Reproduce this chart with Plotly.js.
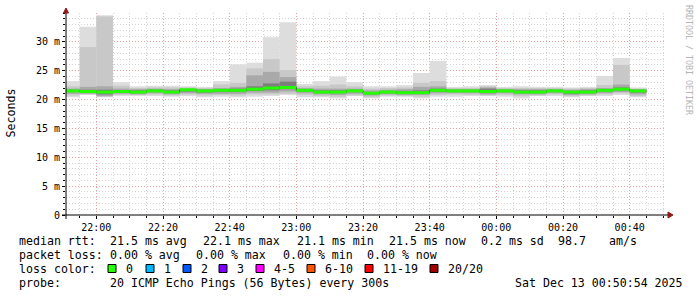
<!DOCTYPE html>
<html>
<head>
<meta charset="utf-8">
<script src="https://cdn.plot.ly/plotly-3.0.1.min.js"></script>
<style>
  html, body { margin: 0; padding: 0; background: #ffffff; }
  #chart { width: 697px; height: 297px; }
</style>
</head>
<body>
<div id="chart"></div>
<script>
// End time of each 300 s step
const stepEnds = [
  '2025-12-12 21:55', '2025-12-12 22:00', '2025-12-12 22:05', '2025-12-12 22:10',
  '2025-12-12 22:15', '2025-12-12 22:20', '2025-12-12 22:25', '2025-12-12 22:30',
  '2025-12-12 22:35', '2025-12-12 22:40', '2025-12-12 22:45', '2025-12-12 22:50',
  '2025-12-12 22:55', '2025-12-12 23:00', '2025-12-12 23:05', '2025-12-12 23:10',
  '2025-12-12 23:15', '2025-12-12 23:20', '2025-12-12 23:25', '2025-12-12 23:30',
  '2025-12-12 23:35', '2025-12-12 23:40', '2025-12-12 23:45', '2025-12-12 23:50',
  '2025-12-12 23:55', '2025-12-13 00:00', '2025-12-13 00:05', '2025-12-13 00:10',
  '2025-12-13 00:15', '2025-12-13 00:20', '2025-12-13 00:25', '2025-12-13 00:30',
  '2025-12-13 00:35', '2025-12-13 00:40', '2025-12-13 00:45'
];

// Median round trip time per step (ms)
const medianRtt = [
  21.5, 21.4, 21.3, 21.4, 21.3, 21.5, 21.3, 21.7, 21.5, 21.6, 21.6, 21.8,
  22.0, 22.1, 21.6, 21.3, 21.3, 21.5, 21.1, 21.3, 21.2, 21.2, 21.6, 21.5,
  21.5, 21.4, 21.5, 21.3, 21.3, 21.5, 21.3, 21.3, 21.6, 21.8, 21.5
];

// Smoke bands: sorted ping spread per step (ms), outer to inner
const pingMax = [
  23.2, 32.6, 34.6, 23.0, 22.3, 22.4, 22.4, 22.3, 22.2, 23.2, 26.1, 26.4,
  30.8, 33.4, 22.7, 23.2, 24.0, 23.0, 22.3, 22.3, 22.5, 24.6, 26.7, 22.2,
  22.3, 22.5, 22.2, 22.3, 22.2, 22.2, 22.1, 22.2, 24.1, 27.2, 22.1
];
const pingHi2 = [
  22.3, 29.1, 34.4, 22.4, 22.0, 22.1, 22.1, 22.1, 22.0, 22.6, 22.9, 25.4,
  27.0, 25.1, 22.3, 22.4, 22.6, 22.3, 21.9, 22.0, 22.1, 22.9, 23.2, 22.0,
  22.0, 22.3, 22.0, 22.0, 22.0, 22.0, 21.9, 22.0, 22.5, 26.0, 21.9
];
const pingHi3 = [
  21.9, 22.2, 22.3, 21.9, 21.8, 21.9, 21.8, 21.9, 21.8, 22.0, 22.2, 24.2,
  24.8, 23.9, 22.0, 21.9, 21.9, 21.9, 21.6, 21.7, 21.8, 22.2, 22.3, 21.8,
  21.8, 22.1, 21.8, 21.8, 21.8, 21.8, 21.7, 21.8, 22.0, 22.6, 21.8
];
const pingHi4 = [
  21.7, 21.7, 21.7, 21.6, 21.6, 21.7, 21.6, 21.8, 21.7, 21.8, 21.9, 22.3,
  22.8, 23.1, 21.8, 21.6, 21.6, 21.7, 21.3, 21.5, 21.5, 21.6, 21.9, 21.7,
  21.7, 21.9, 21.7, 21.6, 21.6, 21.7, 21.5, 21.6, 21.8, 22.1, 21.7
];
const pingLo4 = [
  21.3, 21.2, 20.9, 21.2, 21.1, 21.3, 21.1, 21.4, 21.2, 21.3, 21.3, 21.5,
  21.6, 21.8, 21.4, 21.1, 21.1, 21.3, 20.9, 21.1, 21.0, 21.0, 21.4, 21.3,
  21.3, 21.1, 21.3, 21.1, 21.1, 21.3, 21.0, 21.1, 21.4, 21.6, 21.2
];
const pingLo3 = [
  21.0, 21.0, 20.6, 21.0, 20.9, 21.1, 20.9, 21.1, 21.0, 21.0, 21.0, 21.2,
  21.2, 21.4, 21.1, 20.9, 20.8, 21.0, 20.7, 20.9, 20.8, 20.8, 21.1, 21.1,
  21.1, 20.9, 21.1, 20.9, 20.9, 21.1, 20.8, 20.9, 21.1, 21.3, 20.9
];
const pingLo2 = [
  20.7, 20.9, 20.5, 20.8, 20.8, 20.9, 20.7, 20.9, 20.7, 20.8, 20.7, 20.9,
  20.9, 21.0, 20.8, 20.6, 20.5, 20.7, 20.4, 20.7, 20.6, 20.5, 20.8, 20.9,
  20.8, 20.7, 20.8, 20.6, 20.7, 20.9, 20.6, 20.7, 20.9, 21.1, 20.6
];
const pingMin = [
  20.4, 20.8, 20.4, 20.6, 20.6, 20.6, 20.5, 20.6, 20.4, 20.5, 20.4, 20.5,
  20.6, 20.8, 20.4, 20.4, 20.2, 20.6, 20.2, 20.5, 20.5, 20.2, 20.5, 20.5,
  20.6, 20.6, 20.5, 20.2, 20.6, 20.6, 20.4, 20.6, 20.6, 20.8, 20.4
];

// Axis ticks
const xTickTimes = [
  '2025-12-12 22:00', '2025-12-12 22:20', '2025-12-12 22:40', '2025-12-12 23:00',
  '2025-12-12 23:20', '2025-12-12 23:40', '2025-12-13 00:00', '2025-12-13 00:20',
  '2025-12-13 00:40'
];
const xTickLabels = ['22:00', '22:20', '22:40', '23:00', '23:20', '23:40', '00:00', '00:20', '00:40'];
const yTickVals = [0, 5, 10, 15, 20, 25, 30];
const yTickLabels = ['0', '5 m', '10 m', '15 m', '20 m', '25 m', '30 m'];
const xRange = ['2025-12-12 21:50:54', '2025-12-13 00:50:54'];
const yRange = [0, 35];

// Loss colour legend
const lossLabels = ['0', '1', '2', '3', '4-5', '6-10', '11-19', '20/20'];
const lossColors = ['#26ff00', '#00b8ff', '#0059ff', '#7e00ff', '#ff00ff', '#ff5500', '#ff0000', '#a10000'];

// Statistics text
const rttStats = ['median rtt:', '21.5 ms avg', '22.1 ms max', '21.1 ms min', '21.5 ms now', '0.2 ms sd', '98.7', 'am/s'];
const lossStats = ['packet loss:', '0.00 % avg', '0.00 % max', '0.00 % min', '0.00 % now'];
const probeText = ['probe:', '20 ICMP Echo Pings (56 Bytes) every 300s', 'Sat Dec 13 00:50:54 2025'];

// ---- geometry of the drawing area (pixels) ----
const W = 697, H = 297;
const M = { l: 66, r: 31, t: 13, b: 82 };
const PW = W - M.l - M.r, PH = H - M.t - M.b;
const px = x => (x - M.l) / PW;
const py = y => (M.t + PH - y) / PH;

const STEP = 300000;
const toMs = s => Date.parse(s.replace(' ', 'T') + ':00Z');

function band(lo, hi, color) {
  return {
    type: 'bar',
    x: stepEnds,
    base: lo,
    y: hi.map((h, i) => h - lo[i]),
    offset: -STEP,
    width: STEP,
    marker: { color: color, line: { width: 0 } },
    hoverinfo: 'skip'
  };
}

// dark step line for the median: one point per step start plus the last step end
const medX = stepEnds.map(s => toMs(s) - STEP).concat([toMs(stepEnds[stepEnds.length - 1])]);
const medY = medianRtt.concat([medianRtt[medianRtt.length - 1]]);

// loss-coloured median: a flat segment across each step
const segX = [], segY = [];
stepEnds.forEach((s, i) => {
  segX.push(toMs(s) - STEP, toMs(s), null);
  segY.push(medianRtt[i], medianRtt[i], null);
});

const traces = [
  band(pingMin, pingMax, '#dddddd'),
  band(pingLo2, pingHi2, '#c8c8c8'),
  band(pingLo3, pingHi3, '#a9a9a9'),
  band(pingLo4, pingHi4, '#7e7e7e'),
  {
    type: 'scatter', mode: 'lines', x: medX, y: medY,
    line: { shape: 'hv', color: '#202020', width: 1 }, hoverinfo: 'skip'
  },
  {
    type: 'scatter', mode: 'lines', x: segX, y: segY, connectgaps: false,
    line: { color: lossColors[0], width: 3 }, hoverinfo: 'skip'
  }
];

const monoFont = 'DejaVu Sans Mono, monospace';
const legendSize = 11.6;
const annotations = [];
function txt(x, y, text, opts) {
  annotations.push(Object.assign({
    xref: 'paper', yref: 'paper', x: px(x), y: py(y), text: text.replace(/ /g, '\u00a0'),
    showarrow: false, xanchor: 'left', yanchor: 'middle',
    font: { family: monoFont, size: legendSize, color: '#000000' }
  }, opts || {}));
}

// statistic lines
const rttX = [16.7, 107.7, 201, 294.5, 386.7, 479.3, 556.3, 606.7];
rttStats.forEach((t, i) => txt(rttX[i], 241, t));
const lossX = [16.7, 107.7, 194, 281, 365];
lossStats.forEach((t, i) => txt(lossX[i], 255, t));
txt(16.7, 268.5, 'loss color:');
const boxX = [108, 146, 183, 219, 256, 307, 365, 430];
const shapes = [];
lossLabels.forEach((t, i) => {
  shapes.push({
    type: 'rect', xref: 'paper', yref: 'paper',
    x0: px(boxX[i]), x1: px(boxX[i] + 8), y0: py(272.5), y1: py(264.5),
    fillcolor: lossColors[i], line: { color: '#000000', width: 1 }
  });
  txt(boxX[i] + 16, 268.5, t);
});
txt(16.7, 283.3, probeText[0]);
txt(107.7, 283.3, probeText[1]);
txt(513.3, 283.3, probeText[2]);

// axis title and watermark
txt(10.5, 113, 'Seconds', { xanchor: 'center', textangle: -90 });
annotations.push({
  xref: 'paper', yref: 'paper', x: px(689), y: py(60), text: 'RRDTOOL / TOBI OETIKER',
  showarrow: false, xanchor: 'center', yanchor: 'middle', textangle: 90,
  font: { family: monoFont, size: 8.3, color: '#b4b4b4' }
});

// axis lines with arrow heads
shapes.push({ type: 'line', xref: 'paper', yref: 'paper', x0: px(62), x1: px(669), y0: py(215), y1: py(215), line: { color: '#000000', width: 1 } });
shapes.push({ type: 'line', xref: 'paper', yref: 'paper', x0: px(66), x1: px(66), y0: py(219), y1: py(10), line: { color: '#000000', width: 1 } });
shapes.push({
  type: 'path', xref: 'paper', yref: 'paper',
  path: `M ${px(668)} ${py(212)} L ${px(673)} ${py(215)} L ${px(668)} ${py(218)} Z`,
  fillcolor: '#901818', line: { color: '#901818', width: 1 }
});
shapes.push({
  type: 'path', xref: 'paper', yref: 'paper',
  path: `M ${px(63.5)} ${py(13)} L ${px(66)} ${py(8)} L ${px(68.5)} ${py(13)} Z`,
  fillcolor: '#901818', line: { color: '#901818', width: 1 }
});

const majorGrid = '#e7a0a0', minorGrid = '#d4d4d4', dash = '1px,2px';
const layout = {
  width: W, height: H,
  margin: { l: M.l, r: M.r, t: M.t, b: M.b, pad: 0 },
  paper_bgcolor: '#ffffff', plot_bgcolor: '#ffffff',
  showlegend: false, barmode: 'overlay', hovermode: false,
  font: { family: monoFont, size: 10, color: '#000000' },
  xaxis: {
    type: 'date', range: xRange, tickmode: 'array', tickvals: xTickTimes, ticktext: xTickLabels,
    showgrid: true, gridcolor: majorGrid, griddash: dash, gridwidth: 1,
    ticks: 'outside', ticklen: 3, tickcolor: '#000000', showline: false, zeroline: false,
    tickfont: { family: monoFont, size: 10, color: '#000000' },
    minor: { dtick: STEP, showgrid: true, gridcolor: minorGrid, griddash: dash, gridwidth: 1,
             ticks: 'outside', ticklen: 2, tickcolor: '#000000' },
    fixedrange: true
  },
  yaxis: {
    range: yRange, tickmode: 'array', tickvals: yTickVals, ticktext: yTickLabels,
    showgrid: true, gridcolor: majorGrid, griddash: dash, gridwidth: 1,
    ticks: 'outside', ticklen: 3, tickcolor: '#000000', showline: false, zeroline: false,
    tickfont: { family: monoFont, size: 10, color: '#000000' },
    minor: { dtick: 1, tick0: 0, showgrid: true, gridcolor: minorGrid, griddash: dash, gridwidth: 1,
             ticks: 'outside', ticklen: 2, tickcolor: '#000000' },
    fixedrange: true
  },
  annotations: annotations,
  shapes: shapes
};

Plotly.newPlot('chart', traces, layout, { staticPlot: true, displayModeBar: false });
</script>
</body>
</html>
